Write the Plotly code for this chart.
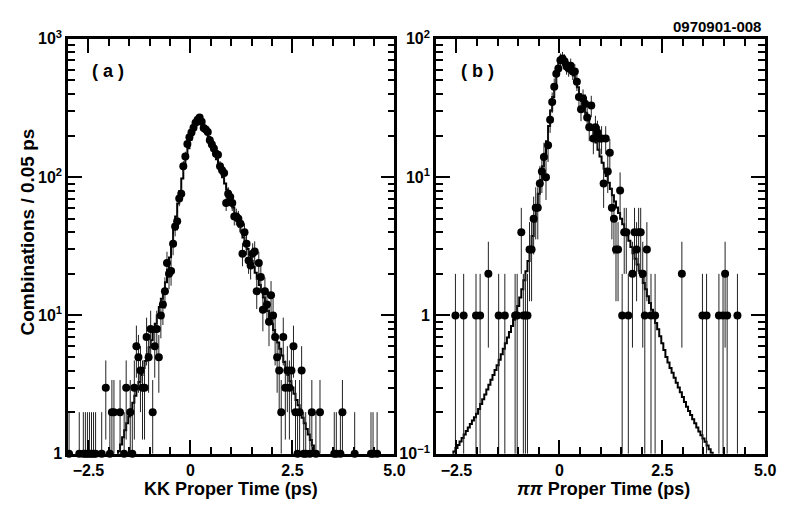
import numpy as np
import plotly.graph_objects as go

W, H = 793, 507

# ---------------- data ----------------
# panel (a): KK proper time, bin centers (ps) and counts per 0.05 ps
kk_t = [-2.975, -2.725, -2.625, -2.575, -2.525, -2.475, -2.425, -2.375, -2.325, -2.175,
        -2.075, -1.975, -1.925, -1.875, -1.725, -1.625, -1.575, -1.475, -1.425, -1.375,
        -1.325, -1.275, -1.225, -1.175, -1.125, -1.075, -1.025, -0.975, -0.925, -0.875,
        -0.825, -0.775, -0.725, -0.675, -0.625, -0.575, -0.525, -0.475, -0.425, -0.375,
        -0.325, -0.275, -0.225, -0.175, -0.125, -0.075, -0.025, 0.025, 0.075, 0.125,
        0.175, 0.225, 0.275, 0.325, 0.375, 0.425, 0.475, 0.525, 0.575, 0.625,
        0.675, 0.725, 0.775, 0.825, 0.875, 0.925, 0.975, 1.025, 1.075, 1.125,
        1.175, 1.225, 1.275, 1.325, 1.375, 1.425, 1.475, 1.525, 1.575, 1.625,
        1.675, 1.725, 1.775, 1.825, 1.875, 1.925, 1.975, 2.025, 2.075, 2.125,
        2.175, 2.225, 2.275, 2.325, 2.375, 2.425, 2.475, 2.525, 2.575, 2.625,
        2.675, 2.725, 2.775, 2.825, 2.925, 2.975, 3.075, 3.175, 3.525, 3.575,
        3.675, 3.725, 4.025, 4.425, 4.475, 4.575]
kk_n = [1, 1, 1, 1, 1, 1, 1, 1, 1, 1,
        3, 1, 2, 2, 2, 1, 3, 2, 1, 3,
        6, 5, 4, 3, 3, 7, 5, 8, 2, 6,
        8, 5, 10, 12, 15, 24, 20, 21, 33, 44,
        48, 70, 76, 120, 141, 174, 194, 210, 228, 247,
        260, 270, 252, 227, 221, 212, 185, 172, 161, 148,
        145, 120, 112, 107, 65, 76, 72, 65, 52, 52,
        50, 46, 28, 40, 33, 25, 23, 28, 29, 15,
        24, 19, 11, 15, 12, 9, 14, 10, 7, 5,
        4, 2, 7, 3, 4, 3, 4, 6, 2, 1,
        2, 4, 1, 1, 1, 2, 1, 2, 1, 1,
        1, 2, 1, 1, 1, 1]

# fit histogram (a), 0.05 ps steps starting at -1.80 ps
kk_fit_start = -1.80
kk_fit = [0.93, 1.05, 1.17, 1.32, 1.48, 1.66, 1.86, 2.09, 2.34, 2.63,
          2.95, 3.31, 3.72, 4.17, 4.68, 5.25, 5.89, 6.61, 7.59, 8.71,
          10.0, 11.5, 13.2, 15.1, 17.4, 21.4, 26.3, 33.1, 41.7, 51.9,
          64.6, 79.4, 97.7, 117, 141, 162, 186, 209, 229, 245,
          257, 257, 245, 229, 214, 195, 178, 162, 148, 135,
          123, 111, 100, 90.2, 81.3, 73.3, 66.1, 60.3, 54.3, 49.0,
          44.7, 40.7, 36.7, 33.1, 30.2, 27.5, 24.8, 22.4, 20.4, 18.4,
          16.6, 15.0, 13.5, 12.0, 10.8, 9.66, 8.71, 7.85, 7.08, 6.38,
          5.75, 5.13, 4.62, 4.17, 3.72, 3.35, 3.02, 2.72, 2.45, 2.24,
          2.02, 1.82, 1.66, 1.51, 1.38, 1.26, 1.15, 1.05, 0.95]

# panel (b): pi pi proper time
pp_t = [-2.525, -2.325, -2.025, -1.925, -1.725, -1.475, -1.325, -1.075, -1.025, -0.925,
        -0.875, -0.825, -0.775, -0.725, -0.675, -0.625, -0.575, -0.525, -0.475, -0.425,
        -0.375, -0.325, -0.275, -0.225, -0.175, -0.125, -0.075, -0.025, 0.025, 0.075,
        0.125, 0.175, 0.225, 0.275, 0.325, 0.375, 0.425, 0.475, 0.525, 0.575,
        0.625, 0.675, 0.725, 0.775, 0.825, 0.875, 0.925, 0.975, 1.025, 1.075,
        1.125, 1.175, 1.225, 1.275, 1.325, 1.375, 1.425, 1.475, 1.525, 1.575,
        1.625, 1.675, 1.775, 1.825, 1.875, 1.925, 1.975, 2.025, 2.075, 2.125,
        2.225, 2.325, 2.975, 3.475, 3.575, 3.875, 3.975, 4.025, 4.075, 4.325]
pp_n = [1, 1, 1, 1, 2, 1, 1, 1, 1, 4,
        1, 1, 1, 3, 3, 5, 6, 6, 9, 11,
        14, 10, 17, 26, 35, 45, 56, 61, 70, 72,
        69, 63, 61, 64, 58, 58, 49, 38, 31, 37,
        34, 27, 23, 33, 19, 23, 21, 19, 19, 9,
        19, 11, 15, 6, 5, 3, 3, 8, 1, 4,
        4, 1, 2, 4, 3, 4, 4, 2, 1, 3,
        1, 1, 2, 1, 1, 1, 1, 2, 1, 1]

# fit histogram (b), 0.05 ps steps starting at -2.60 ps
pp_fit_start = -2.60
pp_fit = [0.098, 0.104, 0.110, 0.116, 0.123, 0.130, 0.138, 0.146, 0.155, 0.164,
          0.174, 0.184, 0.195, 0.211, 0.229, 0.248, 0.269, 0.292, 0.316, 0.343,
          0.372, 0.403, 0.437, 0.479, 0.525, 0.575, 0.631, 0.692, 0.759, 0.841,
          0.933, 1.05, 1.17, 1.35, 1.55, 1.80, 2.09, 2.48, 2.95, 3.76,
          4.79, 6.03, 7.59, 9.55, 12.0, 14.8, 18.2, 23.4, 30.2, 38.0,
          46.8, 57.5, 67.6, 72.4, 72.4, 70.0, 66.1, 62.4, 58.9, 54.3,
          50.1, 44.7, 39.8, 35.9, 32.4, 29.2, 26.3, 24.0, 21.9, 19.7,
          17.8, 15.8, 14.1, 12.7, 11.5, 10.2, 9.12, 8.22, 7.41, 6.68,
          6.03, 5.50, 5.01, 4.57, 4.17, 3.80, 3.47, 3.13, 2.82, 2.57,
          2.34, 2.11, 1.91, 1.72, 1.55, 1.38, 1.23, 1.10, 0.977, 0.881,
          0.794, 0.708, 0.631, 0.562, 0.501, 0.457, 0.417, 0.385, 0.355, 0.327,
          0.302, 0.279, 0.257, 0.237, 0.219, 0.204, 0.191, 0.178, 0.166, 0.155,
          0.145, 0.136, 0.129, 0.122, 0.115, 0.108, 0.102, 0.097]

x_ticks = [-2.5, 0, 2.5, 5.0]
x_ticktext = ["\u22122.5", "0", "2.5", "5.0"]
x_minor = [-2.0, -1.5, -1.0, -0.5, 0.5, 1.0, 1.5, 2.0, 3.0, 3.5, 4.0, 4.5]
ya_ticks = [1, 10, 100, 1000]
ya_text = ["1", "10<sup>1</sup>", "10<sup>2</sup>", "10<sup>3</sup>"]
yb_ticks = [0.1, 1, 10, 100]
yb_text = ["10<sup>\u22121</sup>", "1", "10<sup>1</sup>", "10<sup>2</sup>"]

BIN = 0.05
FONT = "Liberation Sans"

# ---------------- geometry ----------------
def px_x(p):
    return p / W

def px_y(p):
    return 1 - p / H

LEFT_A, RIGHT_A = 69, 400
LEFT_B, RIGHT_B = 442, 776
TOP, BOTTOM = 29, 461


def errors(n, ymin):
    n = np.asarray(n, dtype=float)
    up = np.sqrt(n)
    low = np.maximum(n - np.sqrt(n), ymin)
    return up, n - low


fig = go.Figure()

for (t, n, fs, fv, xa, ya, ymin) in [
        (kk_t, kk_n, kk_fit_start, kk_fit, "x", "y", 1.0),
        (pp_t, pp_n, pp_fit_start, pp_fit, "x2", "y2", 0.1)]:
    fx = [fs + BIN * i for i in range(len(fv))]
    fig.add_trace(go.Scatter(x=fx, y=fv, mode="lines",
                             line=dict(shape="hvh", color="black", width=2),
                             xaxis=xa, yaxis=ya, showlegend=False, hoverinfo="skip"))
    up, dn = errors(n, ymin)
    fig.add_trace(go.Scatter(x=t, y=n, mode="markers",
                             marker=dict(size=8, color="black"),
                             error_y=dict(type="data", symmetric=False, array=up,
                                          arrayminus=dn, width=0, thickness=1,
                                          color="#222222"),
                             cliponaxis=False,
                             xaxis=xa, yaxis=ya, showlegend=False))

axis_common = dict(showline=True, linewidth=2.5, linecolor="black", mirror="ticks",
                   ticks="inside", ticklen=14, tickwidth=1.5, tickcolor="black",
                   showgrid=False, zeroline=False,
                   tickfont=dict(family=FONT, size=16, color="black", weight="bold"))

def xaxis(dom, anchor):
    return dict(axis_common, domain=dom, anchor=anchor, range=[-3, 5],
                tickvals=x_ticks, ticktext=x_ticktext,
                minor=dict(tickvals=x_minor, ticks="inside", ticklen=7,
                           tickwidth=1.5, tickcolor="black", showgrid=False))

def minor_log(lo, hi):
    vals = []
    for e in range(lo, hi):
        for m in range(2, 10):
            vals.append(m * 10 ** e)
    return vals

def yaxis(rng, tv, tt, anchor):
    return dict(axis_common, domain=[px_y(BOTTOM), px_y(TOP)], anchor=anchor,
                type="log", range=rng, tickvals=tv, ticktext=tt,
                minor=dict(tickvals=minor_log(rng[0], rng[1]), ticks="inside",
                           ticklen=7, tickwidth=1.5, tickcolor="black", showgrid=False))

ann_font = dict(family=FONT, color="black", weight="bold")

fig.update_layout(
    width=W, height=H, margin=dict(l=0, r=0, t=0, b=0),
    paper_bgcolor="white", plot_bgcolor="white",
    font=dict(family=FONT, color="black"),
    xaxis=xaxis([px_x(LEFT_A), px_x(RIGHT_A)], "y"),
    xaxis2=xaxis([px_x(LEFT_B), px_x(RIGHT_B)], "y2"),
    yaxis=yaxis([0, 3], ya_ticks, ya_text, "x"),
    yaxis2=yaxis([-1, 2], yb_ticks, yb_text, "x2"),
    annotations=[
        dict(text="KK Proper Time (ps)", x=px_x(234), y=px_y(498), xref="paper", yref="paper",
             showarrow=False, font=dict(ann_font, size=18), xanchor="center", yanchor="middle"),
        dict(text="<i>\u03c0\u03c0</i> Proper Time (ps)", x=px_x(612), y=px_y(498),
             xref="paper", yref="paper", showarrow=False, font=dict(ann_font, size=18),
             xanchor="center", yanchor="middle"),
        dict(text="Combinations / 0.05 ps", x=px_x(28), y=px_y(230), xref="paper", yref="paper",
             showarrow=False, textangle=-90, font=dict(ann_font, size=19),
             xanchor="center", yanchor="middle"),
        dict(text="( a )", x=px_x(110), y=px_y(62), xref="paper", yref="paper",
             showarrow=False, font=dict(ann_font, size=18), xanchor="center", yanchor="middle"),
        dict(text="( b )", x=px_x(484), y=px_y(62), xref="paper", yref="paper",
             showarrow=False, font=dict(ann_font, size=18), xanchor="center", yanchor="middle"),
        dict(text="0970901-008", x=px_x(774), y=px_y(16), xref="paper", yref="paper",
             showarrow=False, font=dict(ann_font, size=15), xanchor="right", yanchor="middle"),
    ],
)

fig.write_html("out.html")
